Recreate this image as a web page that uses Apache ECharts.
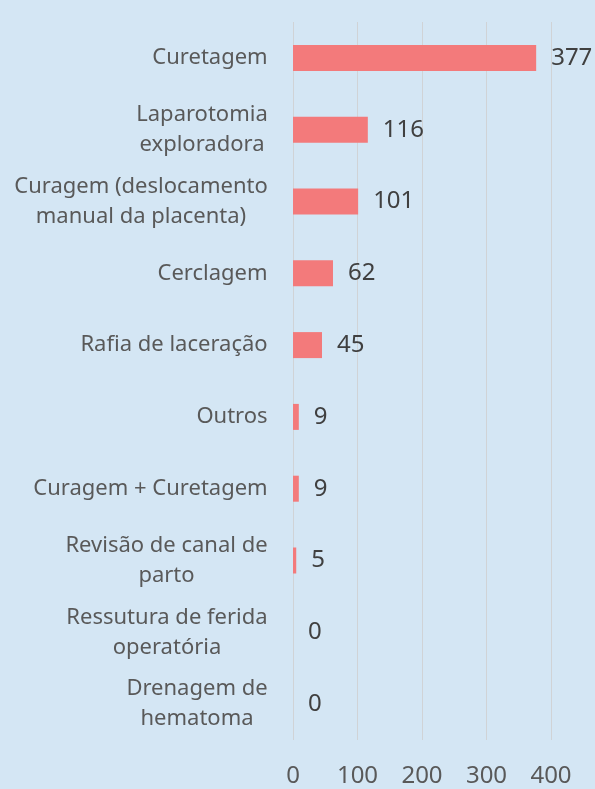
<!DOCTYPE html>
<html>
<head>
<meta charset="utf-8">
<script src="https://cdn.jsdelivr.net/npm/echarts@6/dist/echarts.min.js"></script>
<style>
  html, body { margin: 0; padding: 0; background: #D4E6F4; }
  #chart { width: 595px; height: 789px; }
</style>
</head>
<body>
<div id="chart"></div>
<script>
// Procedure names, listed top to bottom
const categories = [
  'Curetagem',
  'Laparotomia\nexploradora',
  'Curagem (deslocamento\nmanual da placenta)',
  'Cerclagem',
  'Rafia de laceração',
  'Outros',
  'Curagem + Curetagem',
  'Revisão de canal de\nparto',
  'Ressutura de ferida\noperatória',
  'Drenagem de\nhematoma'
];
// Number of procedures per category
const counts = [377, 116, 101, 62, 45, 9, 9, 5, 0, 0];
// Value axis ticks
const axisMin = 0;
const axisMax = 400;
const axisStep = 100;

const font = '"Noto Sans", "Liberation Sans", sans-serif';
const catFontSize = 22;

// Multi-line category labels are centred line by line inside a block
// as wide as their longest line; the block itself sits right-aligned.
const measureCtx = document.createElement('canvas').getContext('2d');
measureCtx.font = catFontSize + 'px ' + font;
const rich = {};
categories.forEach((c, i) => {
  const w = Math.max(...c.split('\n').map(s => measureCtx.measureText(s).width));
  rich['c' + i] = {
    width: Math.ceil(w),
    align: 'center',
    fontSize: catFontSize,
    fontFamily: font,
    color: '#595959',
    lineHeight: 30
  };
});

const chart = echarts.init(document.getElementById('chart'), null, { renderer: 'canvas' });

chart.setOption({
  backgroundColor: '#D4E6F4',
  animation: false,
  grid: { left: 293, right: 44, top: 22, bottom: 49, containLabel: false },
  xAxis: {
    type: 'value',
    min: axisMin,
    max: axisMax,
    interval: axisStep,
    axisLine: { show: false },
    axisTick: { show: false },
    splitLine: { lineStyle: { color: '#D0D3D6', width: 1 } },
    axisLabel: { color: '#595959', fontFamily: font, fontSize: 24, margin: 24 }
  },
  yAxis: {
    type: 'category',
    inverse: true,
    data: categories,
    axisLine: { show: false },
    axisTick: { show: false },
    axisLabel: {
      margin: 25,
      align: 'right',
      formatter: (value, idx) => value.split('\n').map(s => '{c' + idx + '|' + s + '}').join('\n'),
      rich: rich
    }
  },
  series: [{
    type: 'bar',
    data: counts,
    barWidth: 26,
    itemStyle: { color: '#F37A7B' },
    label: {
      show: true,
      position: 'right',
      distance: 15,
      color: '#404040',
      fontFamily: font,
      fontSize: 24
    }
  }]
});
</script>
</body>
</html>
